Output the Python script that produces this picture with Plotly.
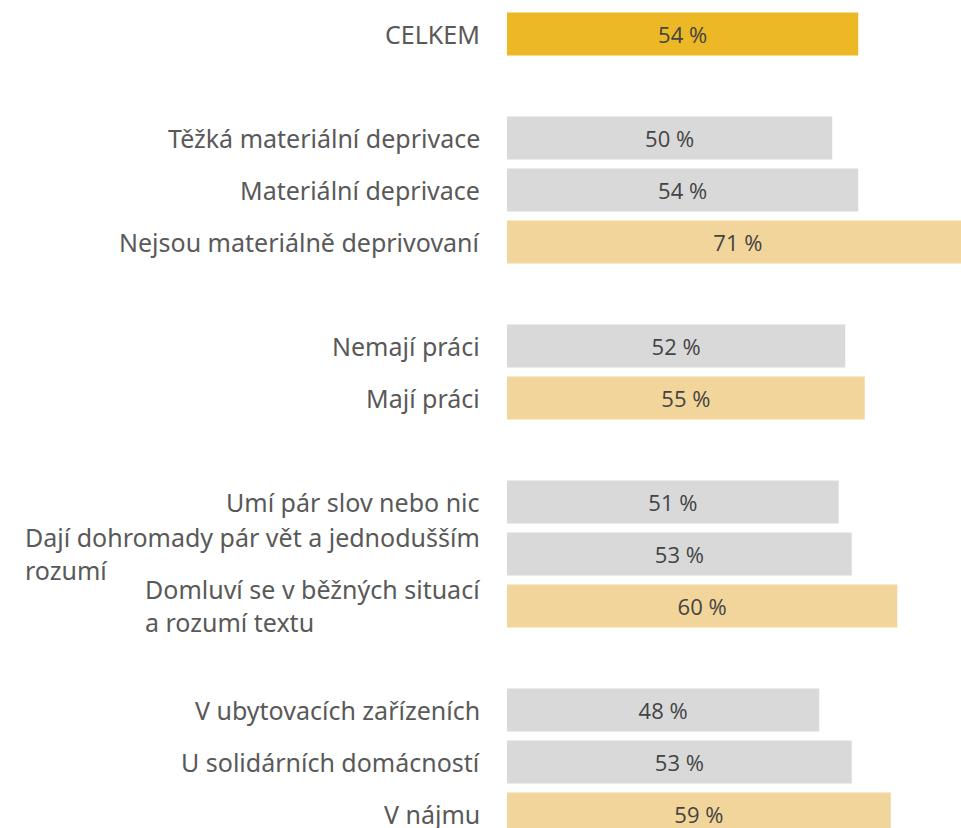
import plotly.graph_objects as go

# categories (top to bottom), blank strings are the gaps between groups
categories = [
    "CELKEM", " ",
    "Těžká materiální deprivace", "Materiální deprivace", "Nejsou materiálně deprivovaní", "  ",
    "Nemají práci", "Mají práci", "   ",
    "Umí pár slov nebo nic", "Dají dohromady pár vět a jednodušším<br>rozumí",
    "Domluví se v běžných situací<br>a rozumí textu", "    ",
    "V ubytovacích zařízeních", "U solidárních domácností", "V nájmu",
]

bar_labels = [
    "CELKEM",
    "Těžká materiální deprivace", "Materiální deprivace", "Nejsou materiálně deprivovaní",
    "Nemají práci", "Mají práci",
    "Umí pár slov nebo nic", "Dají dohromady pár vět a jednodušším<br>rozumí",
    "Domluví se v běžných situací<br>a rozumí textu",
    "V ubytovacích zařízeních", "U solidárních domácností", "V nájmu",
]
values = [54, 50, 54, 71, 52, 55, 51, 53, 60, 48, 53, 59]
groups = ["total", "other", "other", "best", "other", "best",
          "other", "other", "best", "other", "other", "best"]

palette = {"total": "#ECB826", "other": "#D9D9D9", "best": "#F2D59B"}

fig = go.Figure(go.Bar(
    x=values,
    y=bar_labels,
    orientation="h",
    marker=dict(color=[palette[g] for g in groups], line=dict(width=0)),
    width=0.83,
    text=[f"{v} %" for v in values],
    textposition="inside",
    insidetextanchor="middle",
    textangle=0,
    textfont=dict(family="Open Sans", size=22, color="#444444"),
    hoverinfo="skip",
))

# category labels left of the bars, lines aligned left inside the block
for lab in bar_labels:
    fig.add_annotation(
        x=0, xref="paper", y=lab, yref="y",
        text=lab, showarrow=False,
        xanchor="right", yanchor="middle", xshift=-25,
        align="left",
        font=dict(family="Noto Sans", size=25, color="#595959"),
    )

fig.update_layout(
    width=961, height=828,
    margin=dict(l=507, r=0, t=0, b=0),
    plot_bgcolor="white", paper_bgcolor="white",
    showlegend=False,
)
fig.update_xaxes(range=[0, 69.8], visible=False)
fig.update_yaxes(
    type="category", categoryorder="array", categoryarray=categories,
    range=[15.27, -0.654], showticklabels=False, showgrid=False, zeroline=False,
)

# drop the default page margin so the figure fills the window
fig.write_html(
    "out.html",
    config={"displayModeBar": False},
    post_script="document.body.style.margin='0';",
)
